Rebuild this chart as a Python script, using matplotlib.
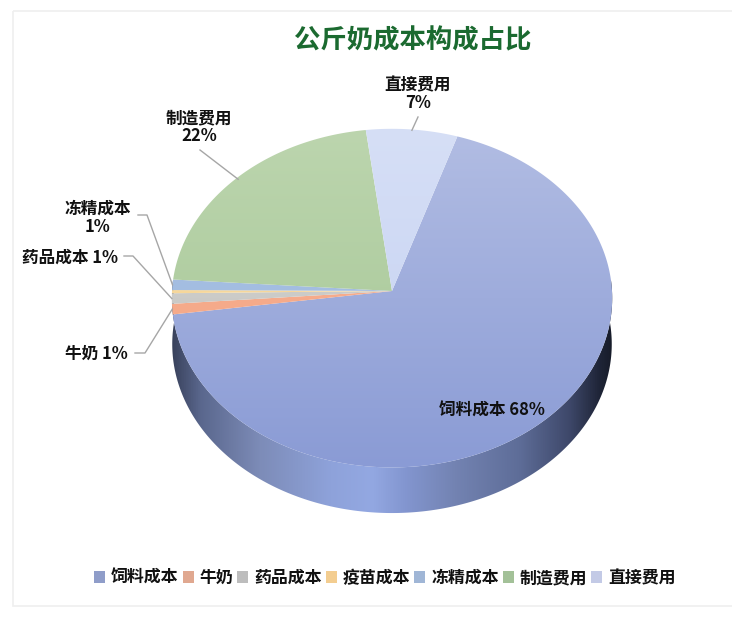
import numpy as np
import matplotlib
matplotlib.use("Agg")
import matplotlib.pyplot as plt
from matplotlib.colors import LinearSegmentedColormap
from matplotlib.patches import Patch, Polygon, Rectangle

plt.rcParams["font.family"] = ["Noto Sans CJK SC", "DejaVu Sans"]

# Cost structure per kilogram of milk, in percent
categories = ["饲料成本", "牛奶", "药品成本", "疫苗成本", "冻精成本", "制造费用", "直接费用"]
values = [68, 1, 1, 0.3, 1, 22, 7]
legend_colors = ["#8f9dc9", "#e0a890", "#bdbdbd", "#f3cd90", "#a0b6d6", "#a3c198", "#c3cae6"]
face_top = ["#b2bde3", "#f7ae8e", "#d2d2ce", "#f8da9f", "#a9c2e4", "#bcd5ae", "#d6dff6"]
face_bottom = ["#8a9bd5", "#f5a888", "#c4c4c2", "#f5d498", "#9eb8de", "#a4c694", "#c3d0f1"]

# Horizontal shading of the pie's outer wall
wall_x = [172, 200, 260, 330, 372, 405, 455, 520, 570, 600, 614]
wall_colors = ["#39425c", "#5a678d", "#7d8cb8", "#8ea2da", "#93a8e2", "#8396d0",
               "#7383b2", "#5e6d98", "#3e486a", "#1f2538", "#161b28"]

# Pie projection parameters, in pixels
CX, CY = 392, 291
RX, RY = 220, 169
TILT = 0.042
DEPTH = 46
START_DEG = 18


def rim(theta_deg, r=1.0, z=0.0):
    """Project a disc point (clockwise from 12 o'clock) onto the canvas."""
    t = np.radians(theta_deg)
    u, v = r * np.sin(t), r * np.cos(t)
    w = 1 + TILT * v + 0.002 * z
    return CX + RX * u / w, CY + DEPTH * z - RY * v / w


def vertical_gradient(ax, patch, top_color, bottom_color, y0, y1):
    cmap = LinearSegmentedColormap.from_list("g", [top_color, bottom_color])
    im = ax.imshow(np.linspace(0, 1, 256)[:, None], cmap=cmap, extent=(0, 732, y1, y0),
                   aspect="auto", interpolation="bilinear", zorder=patch.get_zorder())
    ax.add_patch(patch)
    im.set_clip_path(patch)


fig = plt.figure(figsize=(7.32, 6.19), dpi=100, facecolor="white")
ax = fig.add_axes([0, 0, 1, 1])

# Outer wall
ts = np.linspace(85, 275, 300)
xa, ya = rim(ts)
xb, yb = rim(ts, z=1)
wall_poly = np.vstack([np.column_stack([xa, ya]), np.column_stack([xb, yb])[::-1]])
stops = [(x - wall_x[0]) / (wall_x[-1] - wall_x[0]) for x in wall_x]
wall_cmap = LinearSegmentedColormap.from_list("wall", list(zip(stops, wall_colors)))
wall_patch = Polygon(wall_poly, closed=True, fc="none", ec="none", transform=ax.transData)
ax.add_patch(wall_patch)
wall_im = ax.imshow(np.linspace(0, 1, 512)[None, :], cmap=wall_cmap,
                    extent=(wall_x[0], wall_x[-1], 530, 280), aspect="auto", zorder=1)
wall_im.set_clip_path(wall_patch)

# Top face, one wedge per category
total = sum(values)
edges = START_DEG + np.concatenate([[0], np.cumsum(values)]) * 360 / total
mids = {}
for i, name in enumerate(categories):
    a0, a1 = edges[i], edges[i + 1]
    arc = np.linspace(a0, a1, max(int(a1 - a0) * 3, 8))
    x, y = rim(arc)
    poly = np.vstack([[CX, CY], np.column_stack([x, y])])
    wedge = Polygon(poly, closed=True, fc="none", ec="none", zorder=2)
    vertical_gradient(ax, wedge, face_top[i], face_bottom[i], 128, 468)
    mids[name] = (a0 + a1) / 2


def pct(name):
    return f"{round(values[categories.index(name)])}%"


# Data labels with leader lines running to the slice rims
LEADER = "#a6a6a6"
leaders = {"制造费用": (200, 150), "直接费用": (418, 117)}
elbows = {"冻精成本": [(138, 215), (147, 215)],
          "药品成本": [(124, 256), (133, 256)],
          "牛奶": [(135, 353), (145, 353)]}
for name, start in leaders.items():
    ex, ey = rim(mids[name], r=0.995 if name == "直接费用" else 0.99)
    ax.plot([start[0], ex], [start[1], ey], color=LEADER, lw=1.0, zorder=3)
for name, pts in elbows.items():
    ex, ey = rim(mids[name])
    ax.plot([pts[0][0], pts[1][0], ex], [pts[0][1], pts[1][1], ey],
            color=LEADER, lw=1.0, zorder=3)

label_kw = dict(ha="center", va="center", fontsize=12, fontweight="bold",
                color="#111111", zorder=5, linespacing=1.0)
ax.text(418, 94, f"直接费用\n{pct('直接费用')}", **label_kw)
ax.text(199, 127, f"制造费用\n{pct('制造费用')}", **label_kw)
ax.text(98, 218, f"冻精成本\n{pct('冻精成本')}", **label_kw)
ax.text(70, 258, f"药品成本 {pct('药品成本')}", **label_kw)
ax.text(96, 354, f"牛奶 {pct('牛奶')}", **label_kw)
ax.text(492, 411, f"饲料成本 {pct('饲料成本')}", **label_kw)

ax.text(413, 41, "公斤奶成本构成占比", ha="center", va="center",
        fontsize=19, fontweight="bold", color="#1b6a30", zorder=5)

# Legend row
handles = [Patch(fc=c, ec="none", label=n) for c, n in zip(legend_colors, categories)]
ax.legend(handles=handles, loc="center", bbox_to_anchor=(385 / 732, 1 - 578 / 619),
          bbox_transform=fig.transFigure, ncol=7, frameon=False,
          prop=dict(size=12.2, weight="bold"), handlelength=0.65, handleheight=0.65,
          handletextpad=0.35, columnspacing=0.24, labelcolor="#111111", borderpad=0)

# Card outline
ax.add_patch(Rectangle((12.5, 10.5), 760, 595, fc="none", ec="#efefef", lw=1.2, zorder=0))

ax.set_xlim(0, 732)
ax.set_ylim(619, 0)
ax.axis("off")
fig.savefig("out.png", dpi=100, facecolor="white")
